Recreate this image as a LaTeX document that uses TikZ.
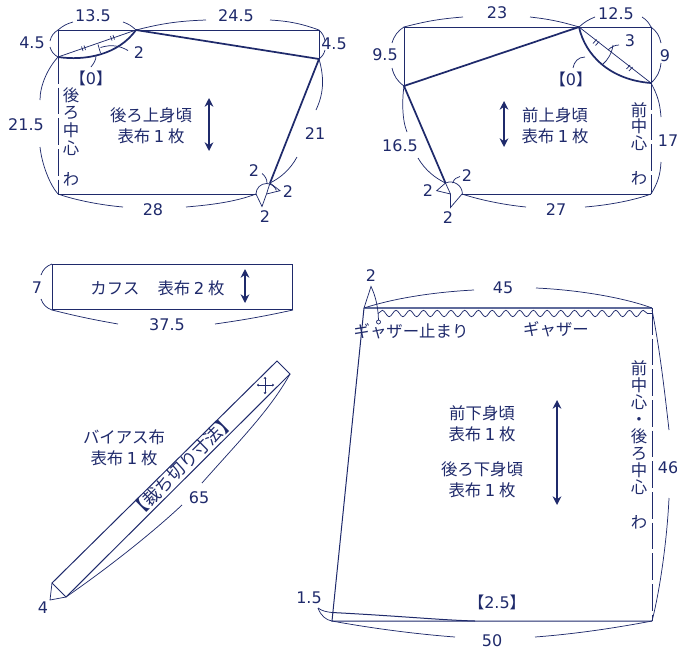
\documentclass[tikz,border=0pt]{standalone}
\usepackage{fontspec}
\setmainfont{DejaVu Sans}
\newfontfamily\jpfont{Noto Sans CJK JP}
\usetikzlibrary{arrows.meta,decorations.pathmorphing}
\definecolor{patnavy}{HTML}{1F2A6B}
\definecolor{gathernavy}{HTML}{5F6B9B}
\newcommand\omotefu[1]{表布 {\rmfamily #1} 枚}
\newcommand\sumi[1]{{\jpfont 【}#1{\jpfont 】}}
\begin{document}
\begin{tikzpicture}[x=0.75pt,y=-0.75pt,color=patnavy]
  \tikzset{seam/.style={draw,line width=0.75pt},
    seam heavy/.style={draw,line width=1.3pt},
    fold line/.style={draw,line width=0.7pt,dash pattern=on 20pt off 3pt},
    dim arc/.style={draw,line width=0.55pt},
    grain/.style={draw,line width=1.2pt,{Stealth[length=6.5pt,width=6.5pt]}-{Stealth[length=6.5pt,width=6.5pt]}},
    num/.style={inner sep=0pt,font=\fontsize{12}{13}\selectfont},
    jp/.style={inner sep=0pt,align=center,font=\jpfont\fontsize{12.3}{15.5}\selectfont},
    jpcol/.style={inner sep=0pt,align=center,font=\jpfont\fontsize{12.3}{#1}\selectfont}}
  \useasboundingbox (0,0) rectangle (677,650);

  % back bodice
  \coordinate (bTL) at (58,30);
  \coordinate (bS) at (136,30);
  \coordinate (bTR) at (319,30);
  \coordinate (bE) at (319,59);
  \coordinate (bN) at (58,57);
  \coordinate (bBL) at (58,194);
  \coordinate (bBR) at (256,194);
  \coordinate (bC) at (266.5,194);
  \coordinate (bA) at (270,183);
  \draw[seam] (bN) -- (bTL) -- (bTR) -- (bE);
  \draw[seam heavy] (bS) -- (bE) -- (bA);
  \draw[seam] (bBL) -- (bBR);
  \draw[fold line] (bN) -- (bBL);
  \draw[dim arc] (bN) -- (bS);
  \draw[seam heavy] (bN) .. controls (85,61) and (118,55) .. (bS);
  \draw[dim arc] (81.5,46.5) -- (83,51) (84,45.5) -- (85.5,50) (110.5,36) -- (112,40.5) (113,35) -- (114.5,39.5);
  \draw[dim arc] (98,44.5) -- (100.5,53);
  \draw[dim arc] (100.5,47.5) .. controls (112,44) and (120,46) .. (128,50.5);
  \draw[dim arc] (96,56) .. controls (96,60) and (94,63) .. (91,67);
  \draw[dim arc] (bBR) arc[start angle=180,end angle=340,radius=10.5];
  \draw[dim arc] (bC) -- (bA) -- (280,190.7) -- (bC) -- (262,206.5) -- (bBR);
  \draw[dim arc] (262,173.5) .. controls (265,176) and (267,179) .. (267,183);
  \draw[dim arc] (bTL) to[bend left=12] (73,22) (123,22) to[bend left=12] (bS);
  \draw[dim arc] (bS) to[bend left=6] (206,20) (270,20) to[bend left=8] (bTR);
  \draw[dim arc] (bTL) to[bend right=22] (50,41) (50,47) to[bend right=22] (bN);
  \draw[dim arc] (bTR) to[bend left=18] (325,41) (325,50) to[bend left=18] (bE);
  \draw[dim arc] (bE) .. controls (325,80) and (323,95) .. (316,110);
  \draw[dim arc] (297,157) .. controls (290,170) and (280,178) .. (bA);
  \draw[dim arc] (bN) .. controls (48,68) and (40,85) .. (40,100);
  \draw[dim arc] (40,147) .. controls (42,165) and (50,185) .. (bBL);
  \draw[dim arc] (bBL) .. controls (75,200) and (100,205) .. (123,207);
  \draw[dim arc] (186,207) .. controls (210,205) and (235,202) .. (bBR);
  \draw[grain] (209,98) -- (209,151);
  \node[num] (bw1) at (93,16) {13.5};
  \node[num] (bw2) at (236,16) {24.5};
  \node[num] (bh1) at (32,43) {4.5};
  \node[num] (bh2) at (334,44) {4.5};
  \node[num] (bneck) at (139,53) {2};
  \node[num] (bseam) at (91,78) {\sumi{0}};
  \node[num] (bcf) at (26,125) {21.5};
  \node[num] (barm) at (315,134) {21};
  \node[num] (bhem) at (153,210) {28};
  \node[num] (bc1) at (254,171) {2};
  \node[num] (bc2) at (288,192) {2};
  \node[num] (bc3) at (265,217) {2};
  \node[jpcol=13.3] (bfold) at (71,121.5) {後\\ろ\\中\\心};
  \node[jp] (bwa) at (71,179) {わ};
  \node[jp] (bname) at (151,126) {後ろ上身頃\\\omotefu{1}};

  % front bodice
  \coordinate (fTL) at (404,27);
  \coordinate (fS) at (579,27);
  \coordinate (fTR) at (651,27);
  \coordinate (fN) at (651,83);
  \coordinate (fBR) at (651,194);
  \coordinate (fE) at (404,86);
  \coordinate (fC) at (450.5,194);
  \coordinate (fA) at (445.5,183);
  \coordinate (fBL) at (462,194);
  \draw[seam] (fE) -- (fTL) -- (fTR) -- (fN);
  \draw[seam heavy] (fS) -- (fE) -- (fA);
  \draw[seam] (fBL) -- (fBR);
  \draw[fold line] (fN) -- (fBR);
  \draw[dim arc] (fS) -- (fN);
  \draw[seam heavy] (fS) .. controls (585,55) and (610,80) .. (fN);
  \draw[dim arc] (596.5,39.5) -- (593,43.5) (599,41.5) -- (595.5,45.5) (630,65) -- (626.5,69) (632.5,67) -- (629,71);
  \draw[dim arc] (613,45) .. controls (612,53) and (608,60) .. (602,65);
  \draw[dim arc] (608,50) .. controls (611,47) and (615,45) .. (619,45);
  \draw[dim arc] (585,57) .. controls (578,57) and (574,62) .. (573,68);
  \draw[dim arc] (fA) arc[start angle=246,end angle=360,radius=12];
  \draw[dim arc] (fC) -- (fA) -- (436.7,190.7) -- (fC) -- (450.5,207.5) -- (fBL);
  \draw[dim arc] (452.5,183) .. controls (454,179) and (457,177) .. (460,176.5);
  \draw[dim arc] (fTL) to[bend left=5] (463,17) (530,17) to[bend left=5] (fS);
  \draw[dim arc] (fS) to[bend left=10] (595,17) (642,17) to[bend left=15] (fTR);
  \draw[dim arc] (fTR) to[bend left=20] (661,43) (661,63) to[bend left=20] (fN);
  \draw[dim arc] (fTL) to[bend right=20] (392,43) (392,68) to[bend right=20] (fE);
  \draw[dim arc] (fN) to[bend left=12] (661,117) (661,162) to[bend left=14] (fBR);
  \draw[dim arc] (fE) .. controls (402,100) and (402,120) .. (407,132);
  \draw[dim arc] (418,158) .. controls (425,170) and (435,178) .. (fA);
  \draw[dim arc] (fBL) .. controls (480,200) and (505,205) .. (526,207);
  \draw[dim arc] (585,207) .. controls (610,205) and (635,200) .. (fBR);
  \draw[grain] (504,101) -- (504,147);
  \node[num] (fw1) at (497,13) {23};
  \node[num] (fw2) at (616,14) {12.5};
  \node[num] (fh1) at (385,55) {9.5};
  \node[num] (fh2) at (665,56) {9};
  \node[num] (fneck) at (630,41) {3};
  \node[num] (fseam) at (571,79) {\sumi{0}};
  \node[num] (farm) at (400,146) {16.5};
  \node[num] (fcf) at (668,141) {17};
  \node[num] (fhem) at (556,210) {27};
  \node[num] (fc1) at (467,176) {2};
  \node[num] (fc2) at (428,191) {2};
  \node[num] (fc3) at (448,218) {2};
  \node[jpcol=12.5] (ffold) at (639,126.5) {前\\中\\心};
  \node[jp] (fwa) at (639,178) {わ};
  \node[jp] (fname) at (555,126) {前上身頃\\\omotefu{1}};

  % cuff
  \node[seam,minimum width=180pt,minimum height=33.75pt,inner sep=0pt,anchor=north west] (cuff) at (52,264) {};
  \draw[dim arc] (cuff.north west) to[bend right=25] (41,275) (41,299) to[bend right=25] (cuff.south west);
  \draw[dim arc] (cuff.south west) to[bend right=2] (118,324) (215,324) to[bend right=2] (cuff.south east);
  \draw[grain] (245,269) -- (245,303);
  \node[num] (cw) at (37,288) {7};
  \node[num] (cl) at (167,325) {37.5};
  \node[jp] (cname) at (115,288) {カフス};
  \node[jp] (cfab) at (191,288) {\omotefu{2}};

  % bias strip
  \coordinate (sA) at (277,361);
  \coordinate (sB) at (290,374);
  \coordinate (sC) at (66,597);
  \coordinate (sD) at (52,583);
  \draw[seam] (sA) -- (sB) -- (sC) -- (sD) -- cycle;
  \draw[dim arc] (sC) .. controls (105,570) and (150,535) .. (182,505);
  \draw[dim arc] (202,483) .. controls (240,440) and (270,410) .. (sB);
  \draw[dim arc] (sD) -- (50,600) -- (sC);
  \draw[dim arc,{To[length=1.5pt,width=2pt]}-{To[length=1.5pt,width=2pt]}] (257,385) -- (274,385);
  \draw[dim arc,{To[length=1.5pt,width=2pt]}-{To[length=1.5pt,width=2pt]}] (265,377) -- (265,394);
  \node[jp,rotate=44.6,font=\jpfont\fontsize{13}{15}\selectfont] (sname) at (182.5,466) {【裁ち切り寸法】};
  \node[jp] (sfab) at (124,447.5) {バイアス布\\\omotefu{1}};
  \node[num] (slen) at (199,498) {65};
  \node[num] (swid) at (43,608) {4};

  % skirt
  \coordinate (kTL) at (364,308);
  \coordinate (kTR) at (652,308);
  \coordinate (kBR) at (652,621);
  \coordinate (kBL) at (332,621);
  \coordinate (kH) at (332,612.5);
  \coordinate (kG) at (378.5,322);
  \draw[seam] (kTL) -- (kBL) -- (kBR);
  \draw[fold line] (kTR) -- (kBR);
  \draw[draw=gathernavy,line width=2pt] (kTL) -- (kTR);
  \draw[dim arc,decorate,decoration={snake,segment length=10.3pt,amplitude=2.4pt}] (378,313.5) -- (kTR |- 0,313.5);
  \draw[seam] (kH) .. controls (400,616) and (440,620) .. (475,621);
  \draw[dim arc] (kTL) -- (371,286.5) .. controls (375,295) and (378,305) .. (378.5,320);
  \draw[dim arc,fill=white] (kG) circle[radius=2];
  \draw[dim arc] (kTL) .. controls (395,298) and (435,292) .. (474,290);
  \draw[dim arc] (536,288) .. controls (580,290) and (625,298) .. (kTR);
  \draw[dim arc] (652,310) .. controls (660,350) and (665,395) .. (669,430);
  \draw[dim arc] (669,498) .. controls (667,540) and (660,590) .. (kBR);
  \draw[dim arc] (kBL) .. controls (370,628) and (415,634) .. (455,637);
  \draw[dim arc] (535,637) .. controls (575,634) and (615,628) .. (kBR);
  \draw[dim arc] (318,608) .. controls (322,611) and (327,612) .. (kH);
  \draw[dim arc] (318,608) .. controls (321,616) and (326,620) .. (kBL);
  \draw[grain] (557,400) -- (557,505);
  \node[num] (kw) at (503,288) {45};
  \node[num] (kh) at (668,468) {46};
  \node[num] (kb) at (492,641) {50};
  \node[num] (kg) at (371,276) {2};
  \node[num] (kf) at (309,598) {1.5};
  \node[num] (khem) at (497,602) {\sumi{2.5}};
  \node[jp] (kstop) at (411,331) {ギャザー止まり};
  \node[jp] (kgather) at (556,329) {ギャザー};
  \node[jp] (kname1) at (482,424) {前下身頃\\\omotefu{1}};
  \node[jp] (kname2) at (482,480) {後ろ下身頃\\\omotefu{1}};
  \node[jpcol=12.75] (kfold) at (639,427.5) {前\\中\\心\\・\\後\\ろ\\中\\心};
  \node[jp] (kwa) at (639,522) {わ};
\end{tikzpicture}
\end{document}
